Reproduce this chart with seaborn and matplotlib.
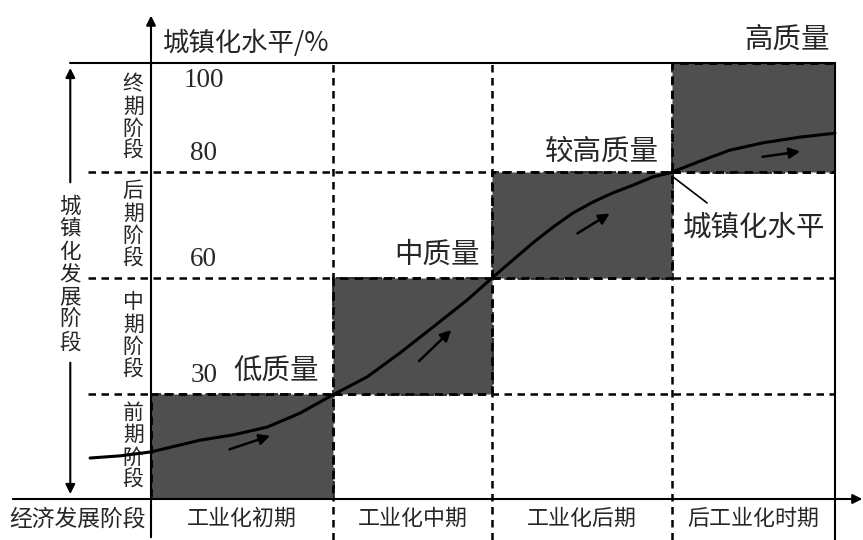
import matplotlib
matplotlib.use("Agg")
import matplotlib.pyplot as plt
import numpy as np
import seaborn as sns

# economic development stages along x (share of plot width, %)
econ_stages = ["工业化初期", "工业化中期", "工业化后期", "后工业化时期"]
econ_edges = [0, 26.6, 49.9, 76.2, 100]

# urbanization stages along y (share of plot height, %)
urban_stages = ["前期阶段", "中期阶段", "后期阶段", "终期阶段"]
urban_edges = [0, 24.1, 50.7, 75.0, 100]
urban_levels = [30, 60, 80, 100]

quality_labels = ["低质量", "中质量", "较高质量", "高质量"]

# urbanization curve
curve_x = [-8.9, -4.5, 0.0, 7.2, 12.0, 17.0, 21.8, 26.6, 31.6, 36.4,
           41.2, 46.2, 50.0, 52.9, 55.8, 58.8, 61.7, 64.6, 67.5, 70.5,
           73.4, 75.9, 80.3, 84.6, 89.5, 94.9, 100.0]
curve_y = [9.4, 9.9, 10.8, 13.5, 14.7, 16.5, 19.7, 23.9, 28.0, 33.5,
           39.4, 45.6, 50.9, 54.8, 58.7, 62.4, 65.6, 68.1, 70.2, 72.0,
           73.9, 74.8, 77.5, 80.0, 81.7, 83.0, 83.9]

# direction arrows beside the curve
arrow_x0 = [11.1, 38.9, 62.0, 89.0]
arrow_y0 = [11.2, 31.2, 60.6, 78.4]
arrow_x1 = [17.8, 44.2, 67.4, 95.3]
arrow_y1 = [14.7, 39.2, 65.8, 79.8]

sns.set_theme(style="white")
plt.rcParams["font.family"] = ["Noto Sans CJK SC", "DejaVu Sans"]

fig = plt.figure(figsize=(8.63, 5.4), dpi=100)
ax = fig.add_axes([151 / 863, 41 / 540, 684 / 863, 436 / 540])
ax.set_xlim(0, 100)
ax.set_ylim(0, 100)
ax.axis("off")

dash = (0, (3, 2.2))

# dashed stage grid
ax.hlines(urban_edges[1:4], xmin=-9.2, xmax=100, colors="black", lw=1.8,
          linestyles=[dash], clip_on=False, zorder=1)
ax.vlines(econ_edges[1:4], ymin=-9.4, ymax=100, colors="black", lw=1.8,
          linestyles=[dash], clip_on=False, zorder=1)

# shaded diagonal cells
ax.bar(econ_edges[:-1], np.diff(urban_edges), width=np.diff(econ_edges),
       bottom=urban_edges[:-1], align="edge", color="#4f4f4f",
       edgecolor="black", linewidth=2, linestyle=dash, zorder=2)

# frame lines
ax.plot([-11.8, 100], [100, 100], color="black", lw=1.5, clip_on=False, zorder=3)
ax.plot([100, 100], [-9.4, 100], color="black", lw=1.5, clip_on=False, zorder=3)
arrow_kw = dict(arrowstyle="-|>", color="black", lw=1.5, mutation_scale=14)
ax.annotate("", xy=(0, 111.5), xytext=(0, -9.4), arrowprops=arrow_kw,
            annotation_clip=False, zorder=3)
ax.annotate("", xy=(104.4, 0), xytext=(-20.6, 0), arrowprops=arrow_kw,
            annotation_clip=False, zorder=3)
ax.annotate("", xy=(-11.8, 99.5), xytext=(-11.8, 72.0), arrowprops=arrow_kw,
            annotation_clip=False)
ax.annotate("", xy=(-11.8, 0.5), xytext=(-11.8, 31.9), arrowprops=arrow_kw,
            annotation_clip=False)

# urbanization curve
sns.lineplot(x=curve_x, y=curve_y, sort=False, color="black", lw=2.2,
             clip_on=False, ax=ax, zorder=4)
for x0, y0, x1, y1 in zip(arrow_x0, arrow_y0, arrow_x1, arrow_y1):
    ax.annotate("", xy=(x1, y1), xytext=(x0, y0),
                arrowprops=dict(arrowstyle="-|>", color="black", lw=1.8,
                                mutation_scale=16), zorder=5)

# urbanization level numbers
num_font = dict(family="Liberation Serif", fontsize=19.5, ha="center", va="center")
for lvl, y in zip(urban_levels, urban_edges[1:]):
    off = -4 if lvl == 100 else 4.2
    ax.text(7.7, y + off, str(lvl), **num_font)

big = dict(fontsize=20.5, ha="center", va="center")
ax.text(18.3, 29.1, quality_labels[0], **big)
ax.text(41.8, 56.0, quality_labels[1], **big)
ax.text(65.9, 79.6, quality_labels[2], **big)
ax.text(93.0, 105.3, quality_labels[3], clip_on=False, **big)
ax.text(1.8, 104.6, "城镇化水平/%", fontsize=19, ha="left", va="center",
        clip_on=False)

ax.plot([76.3, 81.3], [73.9, 67.9], color="black", lw=1.2, zorder=4)
ax.text(88.2, 62.2, "城镇化水平", **big)

# stage labels on the left
for name, lo, hi in zip(urban_stages, urban_edges[:-1], urban_edges[1:]):
    ax.text(-2.6, (lo + hi) / 2, "\n".join(name), fontsize=15, ha="center",
            va="center", linespacing=1.02, clip_on=False)
ax.text(-11.8, 51.4, "\n".join("城镇化发展阶段"), fontsize=15.5, ha="center",
        va="center", linespacing=1.04, clip_on=False,
        bbox=dict(facecolor="white", edgecolor="none", pad=1))

# economic stage labels along the bottom
for name, lo, hi in zip(econ_stages, econ_edges[:-1], econ_edges[1:]):
    ax.text((lo + hi) / 2, -4.6, name, fontsize=15.8, ha="center", va="center",
            clip_on=False)
ax.text(-10.8, -4.6, "经济发展阶段", fontsize=16.4, ha="center", va="center",
        clip_on=False)

fig.savefig("out.png", dpi=100)
